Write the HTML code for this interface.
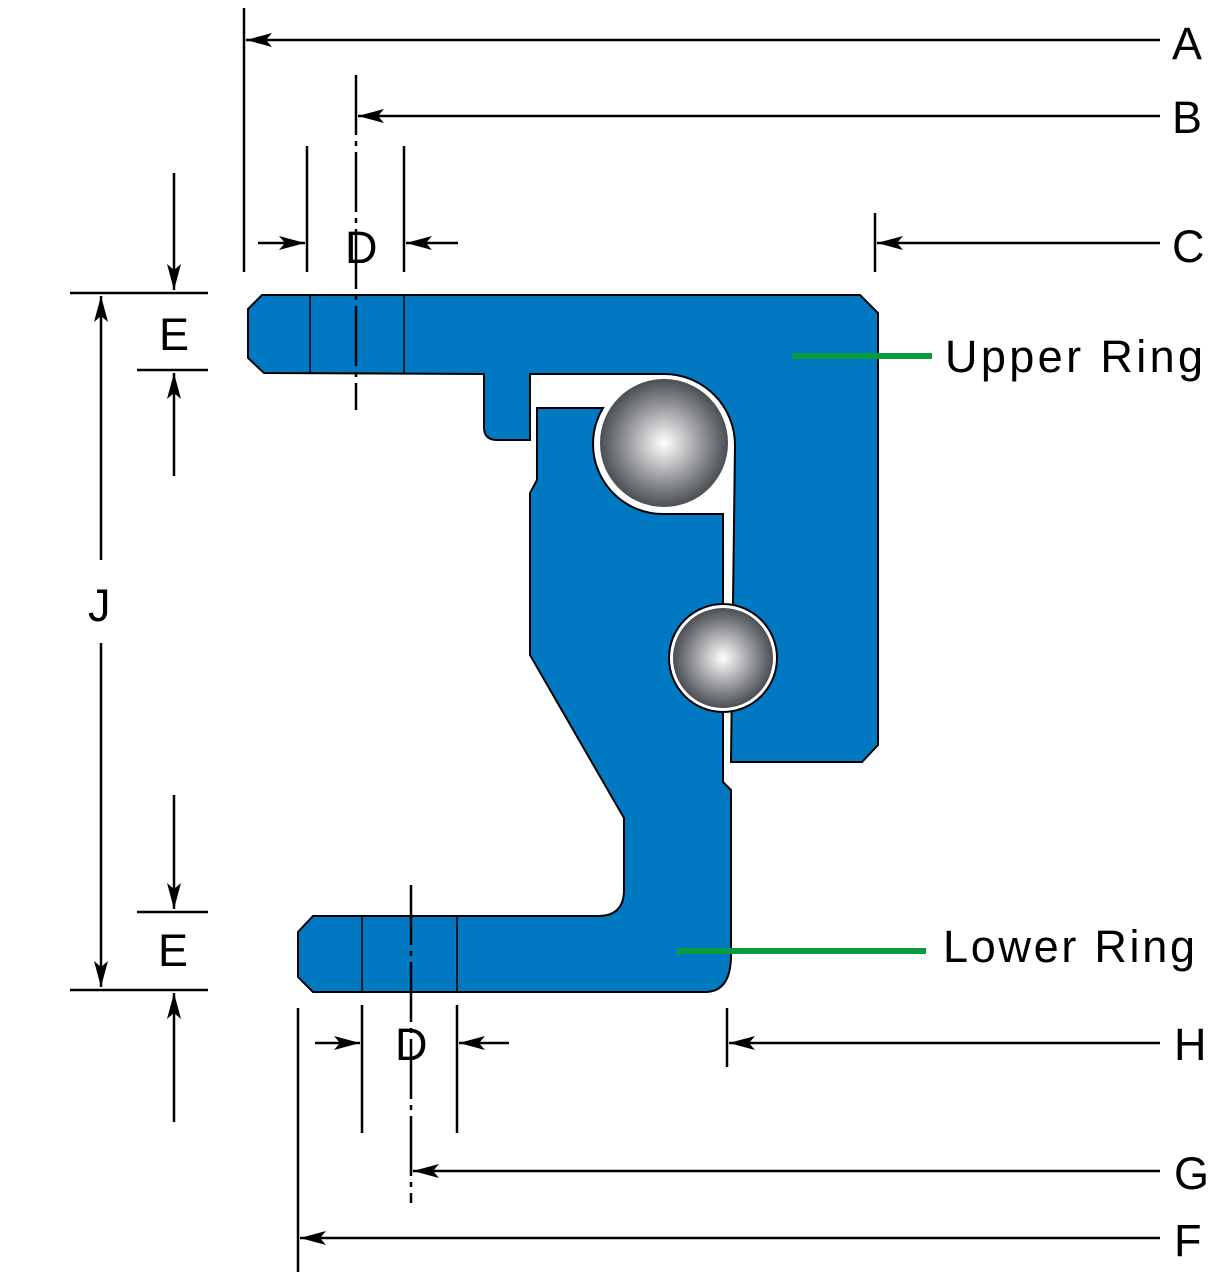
<!DOCTYPE html>
<html><head><style>
html,body{margin:0;padding:0;background:#fff}
svg{display:block}
text{font-family:"Liberation Sans",sans-serif;fill:#000}
</style></head><body>
<svg width="1214" height="1280" viewBox="0 0 1214 1280" xmlns="http://www.w3.org/2000/svg">
<defs>
<radialGradient id="g" cx="0.5" cy="0.5" r="0.5">
<stop offset="0" stop-color="#ffffff"/>
<stop offset="0.5" stop-color="#a4a6a9"/>
<stop offset="1" stop-color="#4b4e52"/>
</radialGradient>
<marker id="ar" viewBox="0 0 26 14" refX="26" refY="7" markerWidth="26" markerHeight="14" markerUnits="userSpaceOnUse" orient="auto">
<path d="M0,0 L26,7 L0,14 L6,7 Z" fill="#000"/>
</marker>
</defs>
<path d="M262,295 L860,295 L878,313 L878,745 L862,762 L731,762 L733,604 L735,445 A71,71 0 0 0 664,374 L530,374 L530,440 L497,440 Q484,440 484,427 L484,374 L264,373 L248,358 L248,309 Z" fill="#0079c2" stroke="#000" stroke-width="2"/>
<path d="M537,408 L603,408 A70,70 0 0 0 664,514 L723,514 L723,782 L731,790 L731,955 Q731,992 705,992 L313,992 L298,977 L298,932 L313,916 L598,916 Q624,916 624,890 L624,818 L530,655 L530,493 L537,480 Z" fill="#0079c2" stroke="#000" stroke-width="2"/>
<line x1="310" y1="295" x2="310" y2="373" stroke="#000" stroke-width="1.5"/>
<line x1="404" y1="295" x2="404" y2="373" stroke="#000" stroke-width="1.5"/>
<line x1="362" y1="916" x2="362" y2="992" stroke="#000" stroke-width="1.5"/>
<line x1="457" y1="916" x2="457" y2="992" stroke="#000" stroke-width="1.5"/>
<circle cx="664" cy="443" r="64" fill="url(#g)"/>
<circle cx="723" cy="658" r="54" fill="#fff" stroke="#000" stroke-width="2"/>
<circle cx="723" cy="658" r="50" fill="url(#g)"/>
<line x1="792" y1="356" x2="932" y2="356" stroke="#0a9a3f" stroke-width="6"/>
<line x1="677" y1="951" x2="926" y2="951" stroke="#0a9a3f" stroke-width="6"/>
<g stroke="#000" stroke-width="2.5" fill="none">
<line x1="244" y1="8" x2="244" y2="272"/>
<line x1="1160" y1="40" x2="246" y2="40" marker-end="url(#ar)"/>
<line x1="356" y1="75" x2="356" y2="410" stroke-dasharray="60,6,5,6"/>
<line x1="1160" y1="116" x2="358" y2="116" marker-end="url(#ar)"/>
<line x1="875" y1="213" x2="875" y2="272"/>
<line x1="1160" y1="243" x2="877" y2="243" marker-end="url(#ar)"/>
<line x1="307" y1="146" x2="307" y2="272"/>
<line x1="404" y1="146" x2="404" y2="272"/>
<line x1="258" y1="243" x2="305" y2="243" marker-end="url(#ar)"/>
<line x1="458" y1="243" x2="406" y2="243" marker-end="url(#ar)"/>
<line x1="70" y1="293" x2="208" y2="293"/>
<line x1="137" y1="370" x2="208" y2="370"/>
<line x1="174" y1="173" x2="174" y2="290" marker-end="url(#ar)"/>
<line x1="174" y1="476" x2="174" y2="373" marker-end="url(#ar)"/>
<line x1="101" y1="560" x2="101" y2="296" marker-end="url(#ar)"/>
<line x1="101" y1="643" x2="101" y2="987" marker-end="url(#ar)"/>
<line x1="137" y1="912" x2="208" y2="912"/>
<line x1="70" y1="990" x2="208" y2="990"/>
<line x1="174" y1="795" x2="174" y2="909" marker-end="url(#ar)"/>
<line x1="174" y1="1122" x2="174" y2="993" marker-end="url(#ar)"/>
<line x1="362" y1="1005" x2="362" y2="1133"/>
<line x1="457" y1="1005" x2="457" y2="1133"/>
<line x1="315" y1="1043" x2="360" y2="1043" marker-end="url(#ar)"/>
<line x1="509" y1="1043" x2="459" y2="1043" marker-end="url(#ar)"/>
<line x1="411" y1="885" x2="411" y2="1203" stroke-dasharray="60,6,5,6"/>
<line x1="727" y1="1008" x2="727" y2="1067"/>
<line x1="1160" y1="1043" x2="729" y2="1043" marker-end="url(#ar)"/>
<line x1="1160" y1="1171" x2="413" y2="1171" marker-end="url(#ar)"/>
<line x1="298" y1="1008" x2="298" y2="1272"/>
<line x1="1160" y1="1238" x2="300" y2="1238" marker-end="url(#ar)"/>
</g>
<g font-size="45">
<text x="1172" y="59">A</text>
<text x="1172" y="133">B</text>
<text x="1172" y="262">C</text>
<text x="1174" y="1060">H</text>
<text x="1174" y="1189">G</text>
<text x="1174" y="1256">F</text>
<text x="345" y="263">D</text>
<text x="395" y="1060">D</text>
<text x="159" y="350">E</text>
<text x="158" y="966">E</text>
<text x="88" y="621">J</text>
<text x="945" y="372" textLength="258" lengthAdjust="spacing">Upper Ring</text>
<text x="943" y="962" textLength="252" lengthAdjust="spacing">Lower Ring</text>
</g>
</svg>
</body></html>
